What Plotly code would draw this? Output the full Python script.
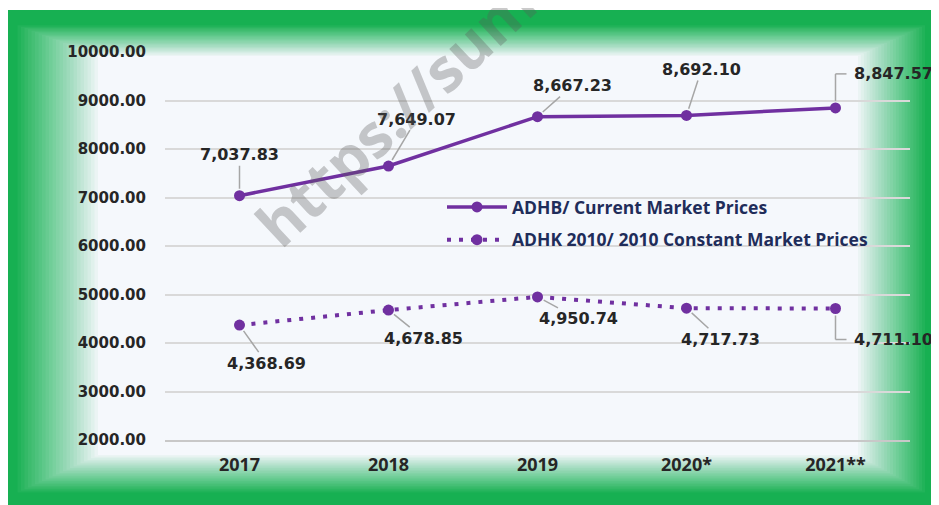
import plotly.graph_objects as go

years = ["2017", "2018", "2019", "2020*", "2021**"]
adhb = [7037.83, 7649.07, 8667.23, 8692.10, 8847.57]
adhk = [4368.69, 4678.85, 4950.74, 4717.73, 4711.10]
name_adhb = "ADHB/ Current Market Prices"
name_adhk = "ADHK 2010/ 2010 Constant Market Prices"
y_ticks = [2000, 3000, 4000, 5000, 6000, 7000, 8000, 9000, 10000]

OFF = 8  # page body margin
W, H = 939 - OFF, 505 - OFF
L, R, T, B = 157, 29, 44, 65
PW, PH = W - L - R, H - T - B

def xp(px):  # reference-screen pixel -> paper
    return (px - OFF - L) / PW

def yp(py):
    return (H - B - (py - OFF)) / PH

PURPLE = "#7030a0"
GREEN = "#17b052"
INNER = "#f5f8fc"
LEAD = "#a6a6a6"
NUMFONT = dict(family="DejaVu Sans", size=16, color="#262626", weight="bold")

fig = go.Figure()
fig.add_trace(go.Scatter(
    x=years, y=adhb, name=name_adhb, mode="lines+markers", legendgroup="a",
    line=dict(color=PURPLE, width=3.5), marker=dict(size=11, color=PURPLE)))
fig.add_trace(go.Scatter(
    x=years, y=adhk, name=name_adhk, mode="lines+markers", legendgroup="b",
    line=dict(color=PURPLE, width=4, dash="4px,8px"), marker=dict(size=11, color=PURPLE)))

shapes = []
shapes.append(dict(type="rect", xref="paper", yref="paper", layer="below",
                   x0=xp(7), x1=xp(950), y0=yp(515), y1=yp(10),
                   fillcolor=GREEN, line=dict(width=0)))
outer = (14, 24, 928, 494)
inner = (98, 56, 858, 455)
N = 24
for k in range(1, N + 1):
    t = k / N
    x0 = outer[0] + (inner[0] - outer[0]) * t
    y0 = outer[1] + (inner[1] - outer[1]) * t
    x1 = outer[2] + (inner[2] - outer[2]) * t
    y1 = outer[3] + (inner[3] - outer[3]) * t
    shapes.append(dict(type="rect", xref="paper", yref="paper", layer="below",
                       x0=xp(x0), x1=xp(x1), y0=yp(y1), y1=yp(y0),
                       fillcolor=INNER, opacity=1.0 / (N - k + 1), line=dict(width=0)))

annotations = []
offs_a = [(0, -41), (28, -47), (35, -31), (15, -46)]
offs_b = [(27, 38), (35, 28), (41, 22), (34, 31)]
for i, (ax, ay) in enumerate(offs_a):
    annotations.append(dict(x=i, y=adhb[i], xref="x", yref="y",
                            text=f"{adhb[i]:,.2f}", showarrow=True, arrowhead=0,
                            arrowwidth=1.5, arrowcolor=LEAD, ax=ax, ay=ay,
                            standoff=7, font=NUMFONT))
for i, (ax, ay) in enumerate(offs_b):
    annotations.append(dict(x=i, y=adhk[i], xref="x", yref="y",
                            text=f"{adhk[i]:,.2f}", showarrow=True, arrowhead=0,
                            arrowwidth=1.5, arrowcolor=LEAD, ax=ax, ay=ay,
                            standoff=7, font=NUMFONT))
last = len(years) - 1
for vals, dy in ((adhb, 34), (adhk, -31)):
    annotations.append(dict(x=last, y=vals[last], xref="x", yref="y",
                            text=f"{vals[last]:,.2f}", showarrow=False,
                            xanchor="left", yanchor="middle", xshift=16, yshift=dy,
                            font=NUMFONT))
    sgn = 1 if dy > 0 else -1
    shapes.append(dict(type="line", xref="x", yref="y", xsizemode="pixel", ysizemode="pixel",
                       xanchor=last, yanchor=vals[last], x0=0, x1=0, y0=7 * sgn, y1=dy,
                       line=dict(color=LEAD, width=1.5)))
    shapes.append(dict(type="line", xref="x", yref="y", xsizemode="pixel", ysizemode="pixel",
                       xanchor=last, yanchor=vals[last], x0=0, x1=11, y0=dy, y1=dy,
                       line=dict(color=LEAD, width=1.5)))

annotations.append(dict(x=xp(395), y=yp(113), xref="paper", yref="paper",
                        text="https://sum", showarrow=False, textangle=-43,
                        xanchor="center", yanchor="middle",
                        font=dict(family="Open Sans", size=60, weight="bold",
                                  color="rgba(90,90,90,0.32)")))

fig.update_layout(
    width=W, height=H,
    margin=dict(l=L, r=R, t=T, b=B, pad=0),
    paper_bgcolor="white", plot_bgcolor="rgba(0,0,0,0)",
    shapes=shapes, annotations=annotations,
    showlegend=True,
    legend=dict(x=xp(442), y=yp(189), xanchor="left", yanchor="top",
                bgcolor="rgba(0,0,0,0)", tracegroupgap=7, itemwidth=60,
                font=dict(family="Open Sans", size=17.5, color="#1f2d5a", weight="bold")),
    xaxis=dict(type="category", range=[-0.5, len(years) - 0.5], showgrid=False,
               showline=True, linecolor="#c8c8c8", linewidth=2, ticks="",
               ticklabelstandoff=7, fixedrange=True,
               tickfont=dict(family="Noto Sans", size=18, color="#262626", weight="bold")),
    yaxis=dict(range=[2000, 10000], tickvals=y_ticks,
               ticktext=[f"{v:.2f}" for v in y_ticks], showgrid=True,
               gridcolor="#d9d9d9", gridwidth=1.5, zeroline=False, showline=False,
               ticklabelstandoff=18, fixedrange=True,
               tickfont=dict(family="DejaVu Sans", size=15, color="#262626", weight="bold")),
)
fig.write_html("out.html")
